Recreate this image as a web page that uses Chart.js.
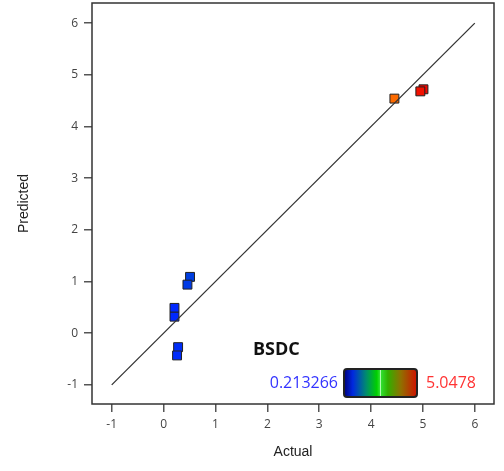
<!DOCTYPE html>
<html>
<head>
<meta charset="utf-8">
<script src="https://cdn.jsdelivr.net/npm/chart.js@4"></script>
<style>
  html, body { margin: 0; padding: 0; background: #fff; }
  #wrap { width: 504px; height: 471px; }
</style>
</head>
<body>
<div id="wrap"><canvas id="apChart" width="504" height="471"></canvas></div>
<script>
// design points: actual vs predicted BSDC
const actual    = [0.51, 0.46, 0.21, 0.21, 0.28, 0.26, 4.45, 5.01, 4.95];
const predicted = [1.09, 0.94, 0.49, 0.32, -0.27, -0.43, 4.54, 4.72, 4.68];
const diagLine  = [-1, 6];
const tickVals  = [-1, 0, 1, 2, 3, 4, 5, 6];
const bsdcMin = 0.213266;
const bsdcMax = 5.0478;

const tickColor = '#444';
const frameColor = '#333';

// blue -> green -> orange -> red, used for the point fill
const pointStops = [
  [0.0, [0, 40, 255]],
  [0.5, [0, 220, 0]],
  [0.85, [255, 128, 0]],
  [1.0, [240, 0, 0]]
];

function colorFor(v) {
  const t = Math.min(1, Math.max(0, (v - bsdcMin) / (bsdcMax - bsdcMin)));
  for (let i = 1; i < pointStops.length; i++) {
    const [t1, c1] = pointStops[i];
    const [t0, c0] = pointStops[i - 1];
    if (t <= t1) {
      const f = (t - t0) / (t1 - t0);
      const c = c0.map((a, k) => Math.round(a + (c1[k] - a) * f));
      return `rgb(${c[0]},${c[1]},${c[2]})`;
    }
  }
  return 'rgb(240,0,0)';
}

const points = actual.map((x, i) => ({ x, y: predicted[i] }));

const framePlugin = {
  id: 'frame',
  afterDatasetsDraw(chart) {
    const { ctx, chartArea: a } = chart;
    ctx.save();
    ctx.strokeStyle = frameColor;
    ctx.lineWidth = 1.5;
    ctx.strokeRect(a.left, a.top, a.right - a.left, a.bottom - a.top);
    ctx.restore();
  }
};

const colorbarPlugin = {
  id: 'colorbar',
  afterDraw(chart) {
    const ctx = chart.ctx;
    ctx.save();
    ctx.textBaseline = 'middle';
    ctx.fillStyle = '#111';
    ctx.font = 'bold 18px "Open Sans"';
    ctx.textAlign = 'left';
    ctx.fillText('BSDC', 253, 350);

    ctx.font = '16px "Open Sans"';
    ctx.fillStyle = '#3333ff';
    ctx.textAlign = 'right';
    ctx.fillText(String(bsdcMin), 338, 383);
    ctx.fillStyle = '#ff3333';
    ctx.textAlign = 'left';
    ctx.fillText(String(bsdcMax), 426, 383);

    const x0 = 344, y0 = 369, w = 73, h = 28;
    const g = ctx.createLinearGradient(x0, 0, x0 + w, 0);
    g.addColorStop(0, '#00007a');
    g.addColorStop(0.12, '#0028e0');
    g.addColorStop(0.3, '#008a70');
    g.addColorStop(0.45, '#00d000');
    g.addColorStop(0.49, '#30e030');
    g.addColorStop(0.5, '#b0ffb0');
    g.addColorStop(0.51, '#30e030');
    g.addColorStop(0.6, '#30b000');
    g.addColorStop(0.78, '#907000');
    g.addColorStop(1, '#d01000');
    ctx.fillStyle = g;
    ctx.beginPath();
    ctx.roundRect(x0, y0, w, h, 3);
    ctx.fill();
    ctx.strokeStyle = '#222';
    ctx.lineWidth = 2;
    ctx.stroke();
    ctx.restore();
  }
};

new Chart(document.getElementById('apChart'), {
  data: {
    datasets: [
      {
        type: 'line',
        data: diagLine.map(v => ({ x: v, y: v })),
        borderColor: '#333',
        borderWidth: 1.3,
        pointRadius: 0,
        fill: false
      },
      {
        type: 'scatter',
        data: points,
        pointStyle: 'rect',
        pointRadius: 6.3,
        pointHoverRadius: 6.3,
        backgroundColor: actual.map(colorFor),
        borderColor: '#222',
        borderWidth: 1
      }
    ]
  },
  options: {
    responsive: false,
    animation: false,
    layout: { autoPadding: false, padding: { top: 3, right: 10, left: 0, bottom: 0 } },
    scales: {
      x: {
        type: 'linear',
        min: -1.38,
        max: 6.37,
        afterBuildTicks: s => { s.ticks = tickVals.map(v => ({ value: v })); },
        afterFit: s => { s.height = 67; s.paddingLeft = 0; s.paddingRight = 0; },
        border: { display: false },
        grid: { drawOnChartArea: false, drawTicks: true, tickLength: 8, color: '#555', lineWidth: 1.5 },
        ticks: { color: tickColor, padding: 5, font: { family: '"Open Sans"', size: 12 } },
        title: { display: true, text: 'Actual', color: '#222', padding: { bottom: 10 }, font: { family: '"Liberation Sans"', size: 14 } }
      },
      y: {
        type: 'linear',
        min: -1.37,
        max: 6.39,
        afterBuildTicks: s => { s.ticks = tickVals.map(v => ({ value: v })); },
        afterFit: s => { s.width = 92; s.paddingTop = 0; s.paddingBottom = 0; },
        border: { display: false },
        grid: { drawOnChartArea: false, drawTicks: true, tickLength: 8, color: '#555', lineWidth: 1.5 },
        ticks: { color: tickColor, padding: 6, font: { family: '"Open Sans"', size: 12 } },
        title: { display: true, text: 'Predicted', color: '#222', padding: { top: 16 }, font: { family: '"Liberation Sans"', size: 14 } }
      }
    },
    plugins: {
      legend: { display: false },
      tooltip: { enabled: false }
    }
  },
  plugins: [framePlugin, colorbarPlugin]
});
</script>
</body>
</html>
